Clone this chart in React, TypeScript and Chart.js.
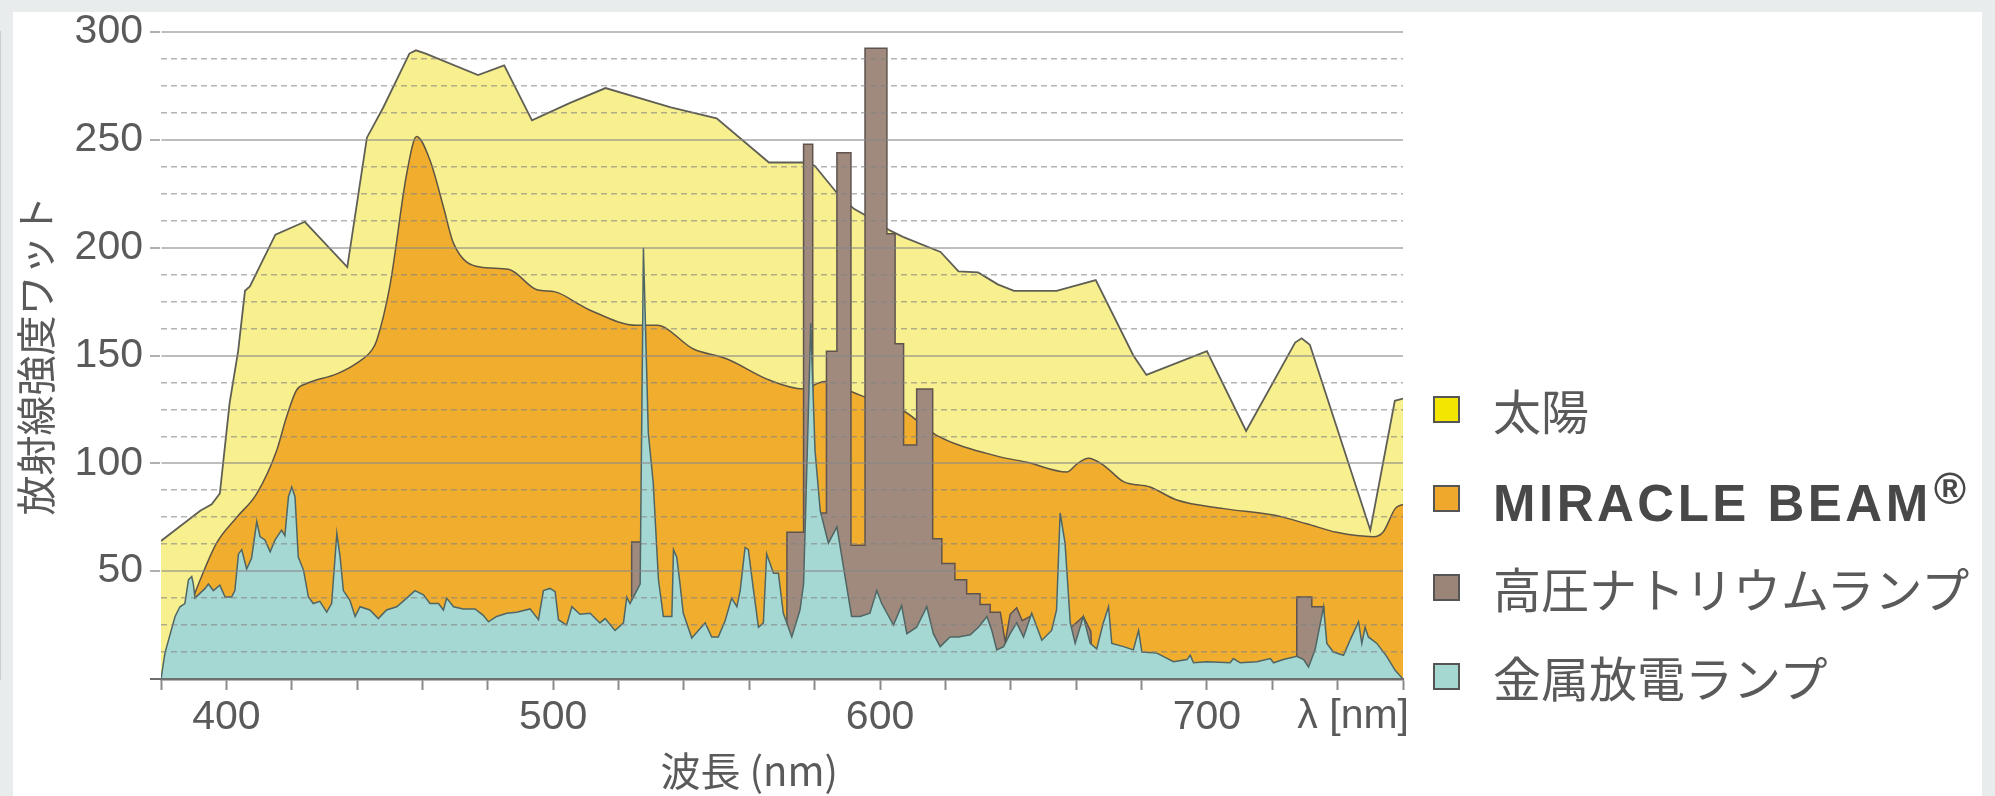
import React, { useEffect, useRef } from 'react';
import { Chart, registerables } from 'chart.js';

Chart.register(...registerables);

// ---------------- data ----------------
const SERIES_LABELS = ['太陽', 'MIRACLE BEAM', '高圧ナトリウムランプ', '金属放電ランプ'];

// 太陽 (sunlight)
const SUN_NM = [380, 392, 395.5, 398, 401, 403.6, 405.7, 407.2, 415, 424, 437, 443, 448, 456, 458, 461, 477, 485, 493.5, 505, 516, 536, 550, 566, 576.5, 580, 587, 592, 595.5, 603, 607, 618.5, 624, 630, 636, 641, 654, 666, 677.5, 681.5, 700, 712, 727, 729, 731.5, 750, 757.5, 760];
const SUN_W = [64, 78, 81, 86, 128, 152, 180, 182, 206, 212, 191, 251, 265, 290, 291.5, 290, 280, 284.5, 259, 267, 274, 265, 260, 239.5, 239.5, 238, 225, 218, 215, 208, 205, 198, 189, 188.5, 183, 180, 180, 185, 150, 141, 152, 115, 156, 158, 155, 69, 129, 130];

// MIRACLE BEAM
const BEAM_NM = [380, 384, 388, 392, 397, 403.2, 409.3, 415.4, 418.4, 421.5, 424.6, 433.8, 439.9, 444.5, 446, 450, 455.2, 458.2, 462.3, 466.4, 469.5, 477.6, 486.3, 495, 500.6, 508.2, 511.3, 525.6, 531.7, 542.9, 553, 566.3, 576.5, 583, 590, 600, 607, 617.3, 636.7, 645, 657.1, 660.5, 663.7, 668.3, 674.5, 682.6, 690.8, 705.1, 720.4, 730.5, 739.7, 751, 754, 757.6, 760];
const BEAM_W = [0, 12, 30, 46, 63, 75, 86, 106, 121.5, 134, 137, 141.5, 146.5, 152.5, 157, 182, 234.5, 251.5, 240.5, 219, 202, 191, 190, 180.5, 179.5, 173.5, 171, 164, 164, 153, 148.5, 138.5, 134.5, 138, 134, 128, 124.5, 113, 103, 100.5, 96, 100, 102.3, 99.2, 91.5, 89, 83, 79, 76, 72, 68, 66, 68.3, 79, 81];

// 高圧ナトリウムランプ (high-pressure sodium)
const SODIUM_NM = [380, 523.9, 524, 527.1, 527.2, 571.4, 571.5, 576.6, 576.6, 579.4, 579.4, 583.6, 583.6, 586.8, 586.8, 591.1, 591.1, 595.4, 595.4, 602.1, 602.1, 604.6, 604.6, 607.2, 607.2, 611.2, 611.2, 616.1, 616.1, 618.9, 618.9, 622.9, 622.9, 626.5, 626.5, 630.6, 630.6, 633.7, 633.7, 636.8, 638.3, 639.8, 641.8, 643.5, 645.9, 646.3, 658.4, 658.5, 662.2, 664.5, 665, 727.4, 727.5, 732.1, 732.1, 735.7, 735.8, 760];
const SODIUM_W = [0, 0, 63.5, 63.5, 0, 0, 68, 68, 248, 248, 77, 77, 152, 152, 244, 244, 62, 62, 292.5, 292.5, 206.5, 206.5, 155.5, 155.5, 108.5, 108.5, 134.5, 134.5, 65, 65, 53.5, 53.5, 46, 46, 39.5, 39.5, 34.5, 34.5, 31, 31, 17, 30, 33, 27, 29, 0, 0, 24, 29, 22, 0, 0, 38, 38, 33.5, 33.5, 0, 0];

// 金属放電ランプ (metal halide)
const HALIDE_NM = [380, 381.2, 384.3, 385.8, 387.3, 388.4, 389.4, 389.9, 390.4, 391.4, 393.5, 394.5, 396, 398, 399.6, 401.6, 402.6, 403.7, 404.7, 406.2, 407.7, 409.3, 410.3, 411.8, 413.4, 414.9, 416.9, 417.9, 419, 420, 421, 422, 423.6, 425.1, 426.6, 428.6, 430.7, 432.2, 433.8, 434.8, 435.8, 437.8, 439.4, 440.9, 443.9, 446.5, 449, 452.1, 455.2, 457.7, 460.3, 462.3, 464.9, 466.4, 467.4, 469.5, 472.5, 476.1, 478.6, 480.2, 482.7, 485.8, 488.8, 492.9, 495.5, 497, 499, 500.6, 501.6, 504.1, 505.7, 508.2, 511.3, 514.3, 515.9, 518.9, 521.5, 522.5, 523.5, 526.6, 527.6, 529.1, 530.6, 532.2, 533.7, 536.3, 536.8, 537.8, 538.8, 539.8, 542.4, 544.4, 546.5, 548.5, 550.5, 552.6, 554.6, 556.2, 557.2, 558.7, 559.7, 561.3, 562.8, 564.3, 565.3, 567.4, 568.9, 570.4, 573, 575.5, 576.6, 578, 578.8, 580.1, 581.7, 584.2, 586.8, 588.8, 591.3, 593.9, 596.9, 599, 600.5, 604.1, 606.6, 608.2, 611.2, 614.3, 616.3, 618.4, 621.4, 624, 627.6, 630.1, 632.7, 634.2, 635.7, 637.8, 639.8, 641.8, 643.9, 646.4, 649.5, 652.5, 654, 655.1, 656.6, 658.2, 659.7, 662.2, 664.3, 666.3, 668.3, 669.9, 670.9, 674.5, 677.5, 679.1, 680.1, 684.7, 689.8, 693.9, 694.9, 695.9, 700, 707.1, 708.1, 710.2, 715.3, 719.4, 720.4, 723.4, 727.5, 729.6, 731.1, 733.1, 735.7, 736.7, 738.7, 741.8, 743.8, 746.4, 747.4, 748.4, 749.4, 752, 755, 757.6, 760];
const HALIDE_W = [0, 12, 29, 33.5, 35, 46, 47.5, 44, 37.5, 39, 42, 44, 41, 43.5, 38, 38, 41, 58, 60, 51, 56, 73, 66, 64.5, 59, 64.5, 69, 66.5, 84.5, 89, 84.5, 56.5, 50.5, 38, 35, 36, 31, 35, 67.5, 56.5, 41, 36.5, 29, 33.5, 32, 28, 32, 33.5, 37.5, 41, 39, 35, 35, 32, 37.5, 33.5, 32.5, 32.5, 29.5, 26.5, 29, 30.5, 31, 32.5, 27.5, 41, 42, 40.5, 27.5, 25, 33.5, 30, 30.5, 26, 28, 22.5, 26, 38, 35, 44, 200, 114, 91, 46, 29, 29, 60, 56.5, 44, 30.5, 19, 22.5, 26, 19.5, 19.5, 27, 37.5, 33.5, 41, 61, 60, 41, 24, 26, 58, 49, 49, 30.5, 19.5, 32, 44, 120, 165, 106, 78, 63, 70.5, 52, 29, 29, 30.5, 41, 35, 25, 34, 21, 24, 33.5, 21, 15, 19.5, 19.5, 20.5, 24, 29, 22.5, 13.5, 15, 21, 26, 19.5, 30.5, 18, 22.5, 32, 77, 63, 26, 16.5, 29, 16.5, 14, 26, 33.5, 16.5, 15, 13.5, 22.5, 12.5, 12, 8, 9, 11, 7.5, 8, 7.5, 9.5, 7.5, 8, 9.5, 7.5, 9, 10.5, 9, 5.5, 13.5, 33.5, 16.5, 12.5, 11, 18, 26.5, 16.5, 24, 19.5, 16.5, 10.5, 4, 0];

// axes
const X_MIN = 380;
const X_MAX = 760;
const X_STEP = 20;
const X_LABEL_EVERY = 100;
const Y_MIN = 0;
const Y_MAX = 300;
const Y_MAJOR = 50;
const Y_MINOR = 12.5;
const Y_TITLE = '放射線強度ワット';
const X_TITLE = '波長 (nm)';
const X_TITLE_AT = 560;
const X_UNIT = 'λ [nm]';

// ---------------- styles ----------------
const W = 1995;
const H = 796;
const FILL = ['#f8f08f', '#f1ad2e', '#9f8a7d', '#a6d8d3'];
const LEGEND_FILL = ['#f3e600', '#f0a82c', '#9b8579', '#a6d8d2'];
const BORDER = ['#5f5f55', '#5e5545', '#5f544d', '#4f6664'];
const TEXT = '#5a5a5a';
const JP = '"Noto Sans CJK JP", "Noto Sans CJK SC", sans-serif';
const NUM = '"Liberation Sans", Arial, sans-serif';

const pts = (xs: number[], ys: number[]) => xs.map((x, i) => ({ x, y: ys[i] }));

const extraText = {
  id: 'extraText',
  afterDraw(chart: any) {
    const { ctx, chartArea, scales } = chart;
    ctx.save();
    ctx.fillStyle = TEXT;
    ctx.textBaseline = 'middle';
    ctx.font = `40px ${JP}`;
    ctx.textAlign = 'center';
    ctx.fillText(X_TITLE, scales.x.getPixelForValue(X_TITLE_AT), chartArea.bottom + 92);
    ctx.font = `41px ${NUM}`;
    ctx.textAlign = 'right';
    ctx.fillText(X_UNIT, chartArea.right + 6, chartArea.bottom + 38);
    ctx.restore();
  },
};

export default function App() {
  const ref = useRef<HTMLCanvasElement | null>(null);

  useEffect(() => {
    document.body.style.margin = '0';
    const canvas = ref.current;
    if (!canvas) return;
    const series = [pts(SUN_NM, SUN_W), pts(BEAM_NM, BEAM_W), pts(SODIUM_NM, SODIUM_W), pts(HALIDE_NM, HALIDE_W)];
    const chart = new Chart(canvas, {
      type: 'line',
      data: {
        datasets: series.map((d, i) => ({
          label: SERIES_LABELS[i],
          data: d,
          fill: 'origin',
          backgroundColor: FILL[i],
          borderColor: BORDER[i],
          borderWidth: i === 0 ? 1.8 : 1.5,
          pointRadius: 0,
          tension: 0,
          cubicInterpolationMode: i === 1 ? 'monotone' : 'default',
          order: 4 - i,
        })),
      },
      plugins: [extraText],
      options: {
        responsive: false,
        animation: false,
        events: [],
        layout: { padding: { top: 32, right: 592, bottom: 0, left: 0 } },
        plugins: { legend: { display: false }, tooltip: { enabled: false } },
        scales: {
          x: {
            type: 'linear',
            min: X_MIN,
            max: X_MAX,
            afterFit: (s: any) => { s.height = 117; },
            ticks: {
              stepSize: X_STEP,
              autoSkip: false,
              maxRotation: 0,
              padding: 3,
              color: TEXT,
              font: { family: NUM, size: 41 },
              callback: (v: any) => (v % X_LABEL_EVERY === 0 && v < X_MAX ? String(v) : ''),
            },
            grid: { drawOnChartArea: false, tickLength: 11, tickWidth: 2, tickColor: '#8a8a8a' },
            border: { color: '#6e6e6e', width: 2.5, z: 2 },
          },
          y: {
            type: 'linear',
            position: 'left',
            min: Y_MIN,
            max: Y_MAX,
            afterFit: (s: any) => { s.width = 161; },
            ticks: {
              stepSize: Y_MAJOR,
              padding: 7,
              color: TEXT,
              font: { family: NUM, size: 41 },
              callback: (v: any) => (v === 0 ? '' : String(v)),
            },
            title: { display: true, text: Y_TITLE, color: TEXT, font: { family: JP, size: 40 }, padding: { top: 12, bottom: 0 } },
            grid: {
              z: 1,
              lineWidth: 2,
              tickLength: 11,
              tickWidth: 2,
              color: (c: any) => (c.tick && c.tick.value === 0 ? 'rgba(0,0,0,0)' : 'rgba(135,135,135,0.55)'),
              tickColor: (c: any) => (c.tick && c.tick.value === 0 ? '#6e6e6e' : '#b0b0b0'),
            },
            border: { color: '#c4c4c4', width: 1.5 },
          },
          yMinor: {
            type: 'linear',
            position: 'left',
            min: Y_MIN,
            max: Y_MAX,
            afterFit: (s: any) => { s.width = 0; },
            ticks: { display: false, stepSize: Y_MINOR },
            grid: {
              z: 1,
              drawTicks: false,
              lineWidth: 1.6,
              color: (c: any) => (c.tick && c.tick.value % Y_MAJOR === 0 ? 'rgba(0,0,0,0)' : 'rgba(130,130,130,0.6)'),
            },
            border: { display: false, dash: [6, 4] },
          },
        },
      },
    });
    return () => chart.destroy();
  }, []);

  const legendTop = 409;
  const legendGap = 89;

  return (
    <div style={{ position: 'relative', width: W, height: H, background: '#e9ecec', overflow: 'hidden' }}>
      <div style={{ position: 'absolute', left: 13, top: 12, width: 1969, height: H - 12, background: '#ffffff' }} />
      <canvas ref={ref} width={W} height={H} style={{ position: 'absolute', left: 0, top: 0, width: W, height: H }} />
      {SERIES_LABELS.map((label, i) => (
        <div
          key={label}
          style={{
            position: 'absolute',
            left: 1433,
            top: legendTop + i * legendGap - 30,
            height: 60,
            display: 'flex',
            alignItems: 'center',
            whiteSpace: 'nowrap',
          }}
        >
          <span
            style={{
              display: 'inline-block',
              width: 23,
              height: 23,
              background: LEGEND_FILL[i],
              border: '2px solid #555',
              marginRight: 33,
            }}
          />
          {i === 1 ? (
            <span style={{ fontFamily: NUM, fontWeight: 700, fontSize: 51, letterSpacing: 3.5, color: '#484848' }}>
              {label}
              <span style={{ fontSize: 44, verticalAlign: 17, marginLeft: 2, letterSpacing: 0, fontWeight: 700 }}>®</span>
            </span>
          ) : (
            <span style={{ fontFamily: JP, fontSize: 48, color: TEXT }}>{label}</span>
          )}
        </div>
      ))}
    </div>
  );
}
